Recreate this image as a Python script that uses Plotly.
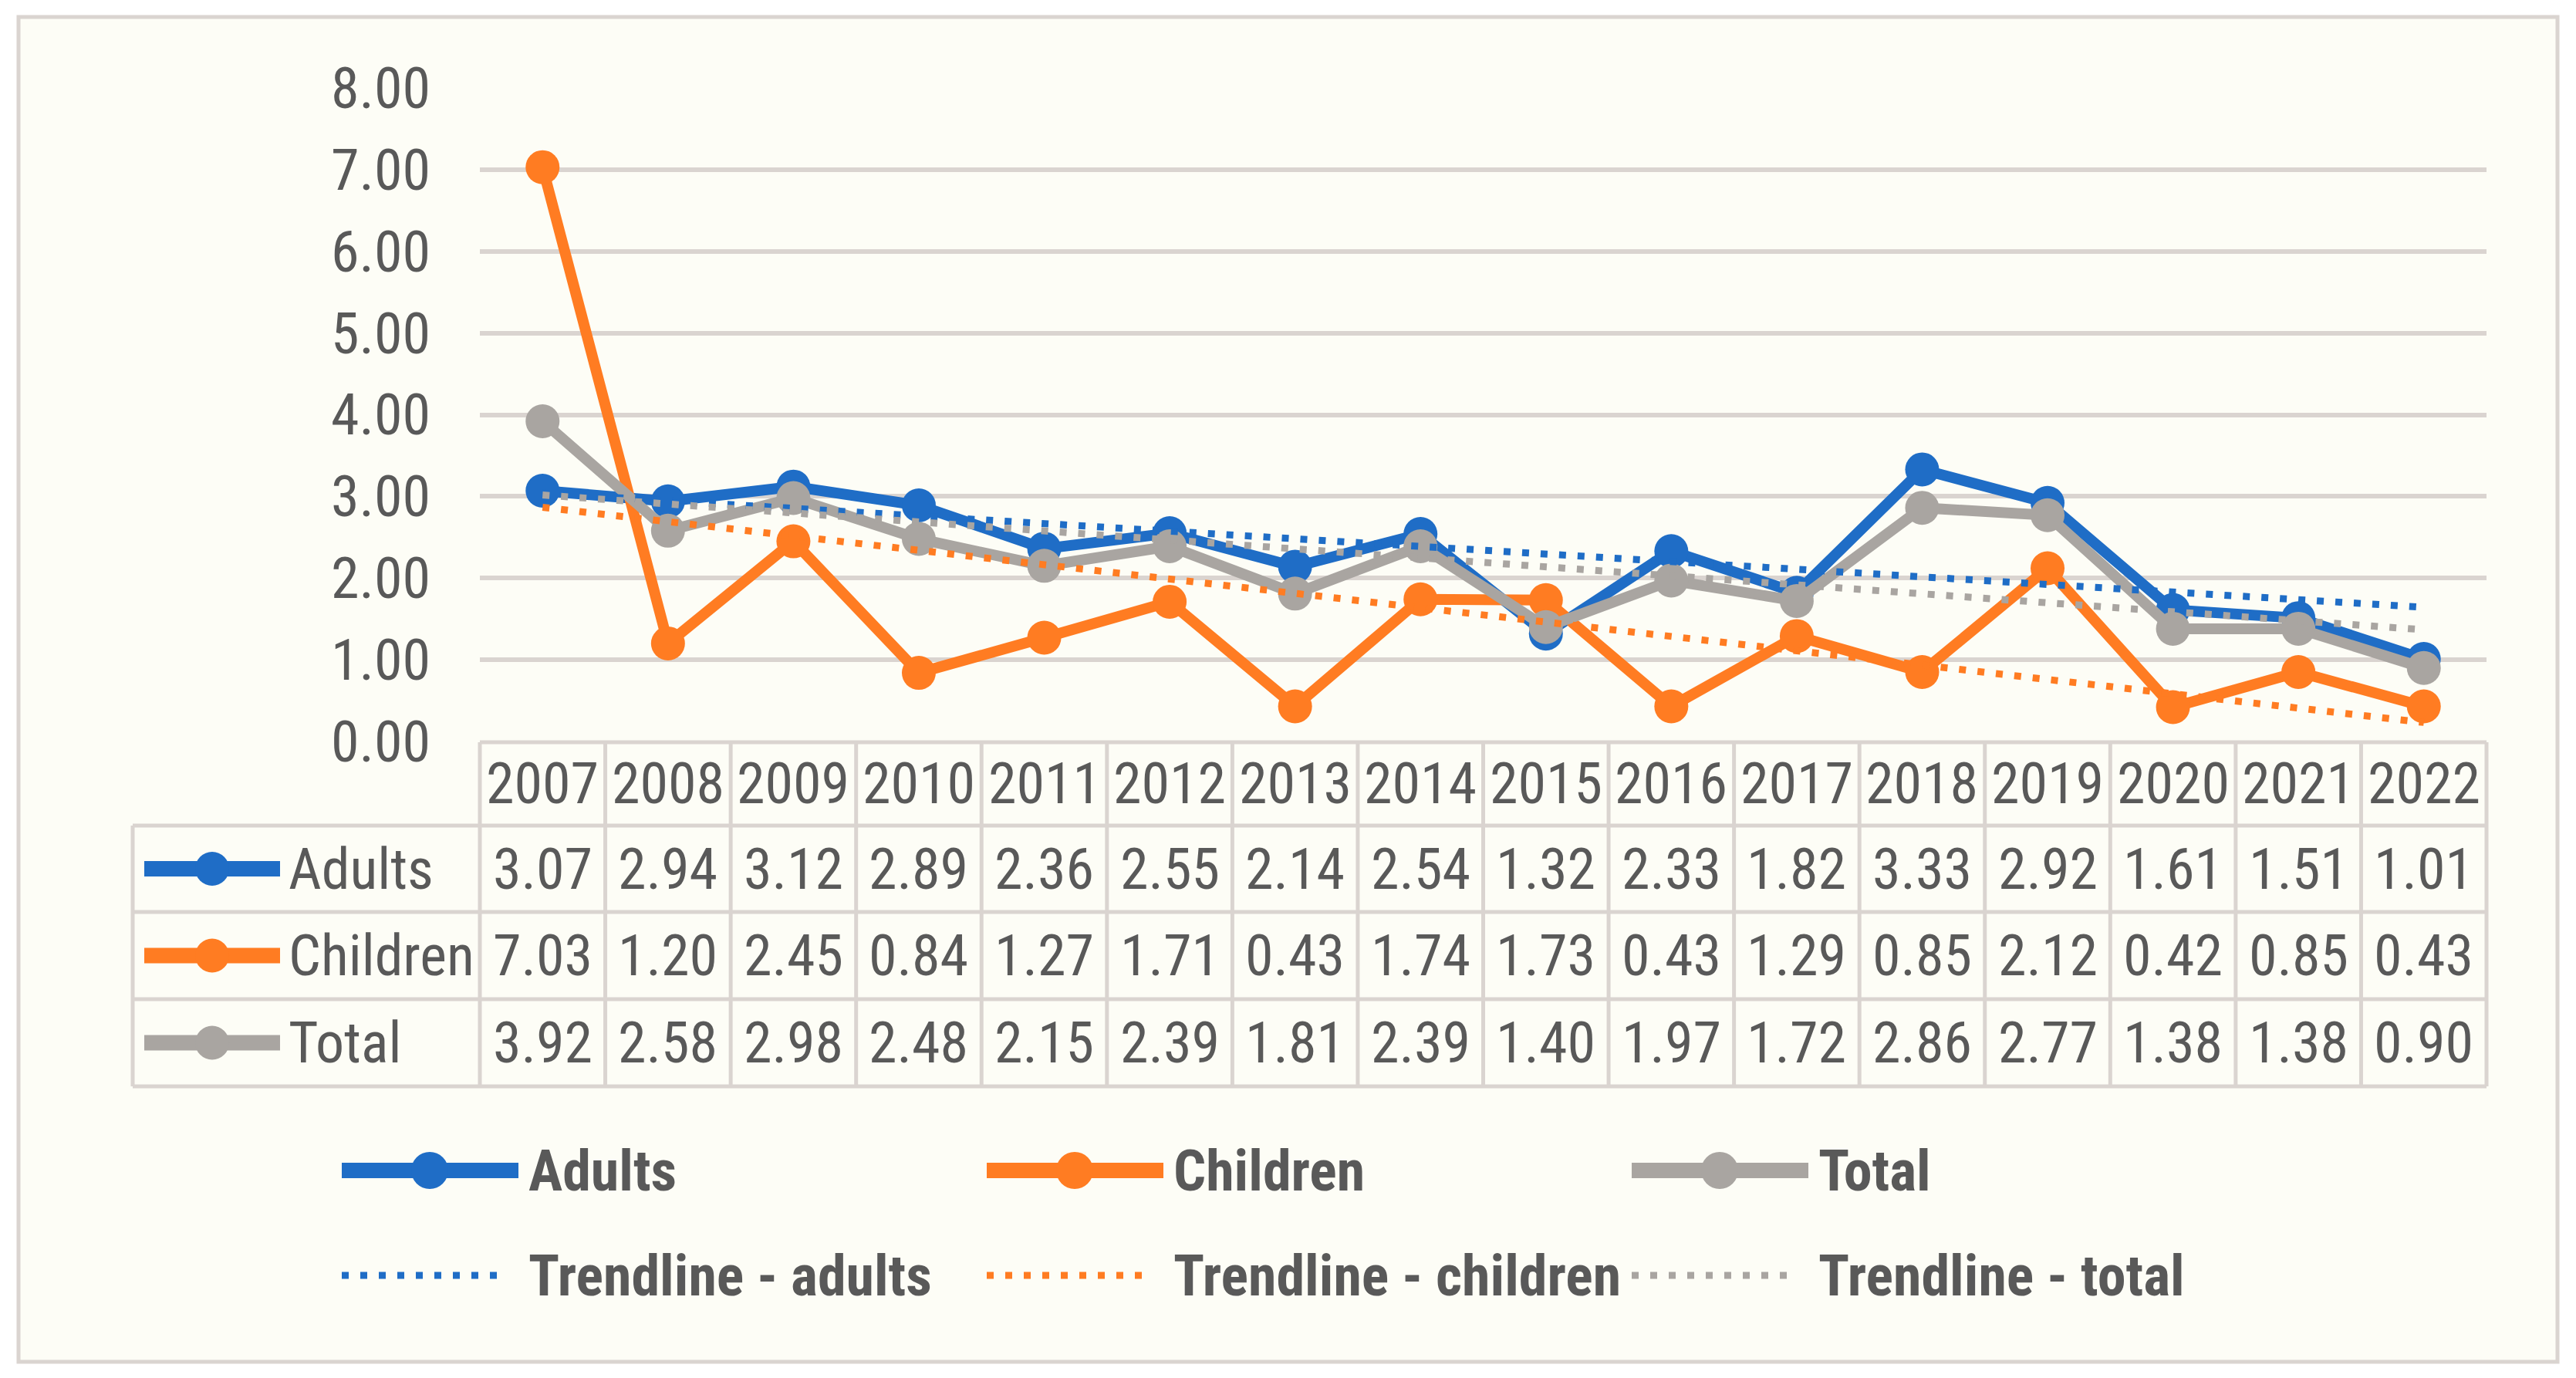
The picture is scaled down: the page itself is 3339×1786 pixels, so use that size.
import numpy as np
import plotly.graph_objects as go

years = ['2007', '2008', '2009', '2010', '2011', '2012', '2013', '2014',
         '2015', '2016', '2017', '2018', '2019', '2020', '2021', '2022']
adults = [3.07, 2.94, 3.12, 2.89, 2.36, 2.55, 2.14, 2.54, 1.32, 2.33, 1.82, 3.33, 2.92, 1.61, 1.51, 1.01]
children = [7.03, 1.20, 2.45, 0.84, 1.27, 1.71, 0.43, 1.74, 1.73, 0.43, 1.29, 0.85, 2.12, 0.42, 0.85, 0.43]
total = [3.92, 2.58, 2.98, 2.48, 2.15, 2.39, 1.81, 2.39, 1.40, 1.97, 1.72, 2.86, 2.77, 1.38, 1.38, 0.90]
series_names = ['Adults', 'Children', 'Total']
trend_names = ['Trendline - adults', 'Trendline - children', 'Trendline - total']
y_ticks = [0, 1, 2, 3, 4, 5, 6, 7, 8]

colors = ['#1F6DC6', '#FF7C22', '#A9A5A1']
grid_col = '#DAD4D0'
bg_col = '#FDFDF6'
txt_col = '#595959'
font_fam = 'Roboto Condensed, Arial Narrow, sans-serif'

W, H = 3339, 1786
PAGE_OFF = 8  # body margin of the html page


def px(x):
    return (x - PAGE_OFF) / W


def py(y):
    return 1 - (y - PAGE_OFF) / H


fig = go.Figure()

all_series = [adults, children, total]
for name, vals, col in zip(series_names, all_series, colors):
    fig.add_trace(go.Scatter(x=years, y=vals, name=name, mode='lines+markers',
                             line=dict(color=col, width=14),
                             marker=dict(color=col, size=44),
                             cliponaxis=False))

# linear trendlines (least squares, as the spreadsheet does)
idx = np.arange(len(years))
for name, vals, col in zip(trend_names, all_series, colors):
    slope, icpt = np.polyfit(idx, vals, 1)
    fig.add_trace(go.Scatter(x=years, y=slope * idx + icpt, name=name, mode='lines',
                             line=dict(color=col, width=9, dash='9px,15px')))

shapes = []
annots = []

# outer frame
shapes.append(dict(type='rect', xref='paper', yref='paper', x0=px(24), x1=px(3315),
                   y0=py(22), y1=py(1765), fillcolor=bg_col,
                   line=dict(color=grid_col, width=5), layer='below'))

# data table grid
tl, tlab, tr = 172, 622, 3223
hdr_top, row_tops = 962, [1070, 1182, 1295, 1408]
line_style = dict(color=grid_col, width=5)
shapes.append(dict(type='line', xref='paper', yref='paper', x0=px(tlab), x1=px(tr),
                   y0=py(hdr_top), y1=py(hdr_top), line=line_style))
for yt in row_tops:
    shapes.append(dict(type='line', xref='paper', yref='paper', x0=px(tl), x1=px(tr),
                       y0=py(yt), y1=py(yt), line=line_style))
shapes.append(dict(type='line', xref='paper', yref='paper', x0=px(tl), x1=px(tl),
                   y0=py(row_tops[0]), y1=py(row_tops[-1]), line=line_style))
for xv in [tlab, tr]:
    shapes.append(dict(type='line', xref='paper', yref='paper', x0=px(xv), x1=px(xv),
                       y0=py(hdr_top), y1=py(row_tops[-1]), line=line_style))
for i in range(len(years) - 1):
    shapes.append(dict(type='line', xref='x', yref='paper', x0=i + 0.5, x1=i + 0.5,
                       y0=py(hdr_top), y1=py(row_tops[-1]), line=line_style))

table_font = dict(family=font_fam, size=74, color=txt_col)
hdr_mid = (hdr_top + row_tops[0]) / 2
for i, yr in enumerate(years):
    annots.append(dict(x=i, y=py(hdr_mid), xref='x', yref='paper', text=yr,
                       showarrow=False, font=table_font, xanchor='center', yanchor='middle'))

for r, (name, vals, col) in enumerate(zip(series_names, all_series, colors)):
    mid = (row_tops[r] + row_tops[r + 1]) / 2
    for i, v in enumerate(vals):
        annots.append(dict(x=i, y=py(mid), xref='x', yref='paper', text=f'{v:.2f}',
                           showarrow=False, font=table_font, xanchor='center', yanchor='middle'))
    annots.append(dict(x=px(372), y=py(mid), xref='paper', yref='paper', text=name,
                       showarrow=False, font=table_font, xanchor='left', yanchor='middle'))
    # legend key inside the table
    shapes.append(dict(type='line', xref='paper', yref='paper', x0=px(187), x1=px(363),
                       y0=py(mid), y1=py(mid), line=dict(color=col, width=20)))
    shapes.append(dict(type='circle', xref='paper', yref='paper', x0=px(275 - 22), x1=px(275 + 22),
                       y0=py(mid - 22), y1=py(mid + 22), fillcolor=col, line=dict(width=0)))

# bottom legend
leg_x = [443, 1279, 2115]
leg_y = [1517, 1653]
leg_font = dict(family=font_fam, size=74, color=txt_col)
for c, (name, col) in enumerate(zip(series_names, colors)):
    x0, yy = leg_x[c], leg_y[0]
    shapes.append(dict(type='line', xref='paper', yref='paper', x0=px(x0), x1=px(x0 + 229),
                       y0=py(yy), y1=py(yy), line=dict(color=col, width=20)))
    shapes.append(dict(type='circle', xref='paper', yref='paper', x0=px(x0 + 114 - 24),
                       x1=px(x0 + 114 + 24), y0=py(yy - 24), y1=py(yy + 24),
                       fillcolor=col, line=dict(width=0)))
    annots.append(dict(x=px(x0 + 240), y=py(yy), xref='paper', yref='paper',
                       text=f'<b>{name}</b>', showarrow=False, font=leg_font,
                       xanchor='left', yanchor='middle'))
for c, (name, col) in enumerate(zip(trend_names, colors)):
    x0, yy = leg_x[c], leg_y[1]
    shapes.append(dict(type='line', xref='paper', yref='paper', x0=px(x0), x1=px(x0 + 206),
                       y0=py(yy), y1=py(yy), line=dict(color=col, width=9, dash='9px,15px')))
    annots.append(dict(x=px(x0 + 240), y=py(yy), xref='paper', yref='paper',
                       text=f'<b>{name}</b>', showarrow=False, font=leg_font,
                       xanchor='left', yanchor='middle'))

fig.update_layout(
    width=W, height=H,
    margin=dict(l=0, r=0, t=0, b=0, autoexpand=False),
    paper_bgcolor='white',
    plot_bgcolor='rgba(0,0,0,0)',
    showlegend=False,
    font=dict(family=font_fam, color=txt_col),
    shapes=shapes,
    annotations=annots,
    xaxis=dict(type='category', domain=[px(tlab), px(tr)], range=[-0.5, len(years) - 0.5],
               showticklabels=False, showgrid=False, zeroline=False, showline=False,
               automargin=False),
    yaxis=dict(domain=[py(961), py(114)], range=[0, 8], tickvals=y_ticks,
               ticktext=[f'{v:.2f}' for v in y_ticks],
               tickfont=dict(family=font_fam, size=74, color=txt_col),
               showgrid=True, gridcolor=grid_col, gridwidth=6, zeroline=False,
               showline=False, ticks='', ticklabelstandoff=63, automargin=False),
)

fig.write_html('out.html')
